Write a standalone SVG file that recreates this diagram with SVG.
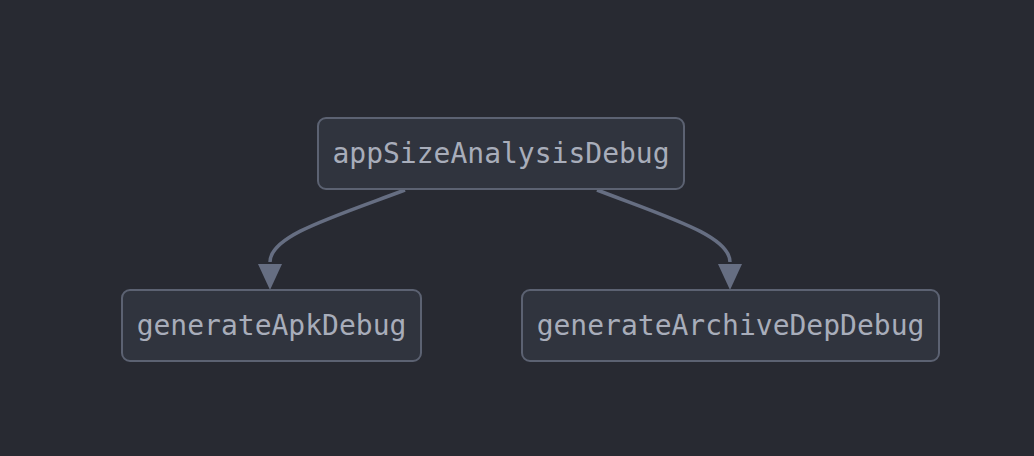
<svg xmlns="http://www.w3.org/2000/svg" width="1034" height="456" viewBox="0 0 1034 456">
<defs>
<style>
.node rect{fill:#30343e;stroke:#5c6272;stroke-width:2}
.node text{font-family:"DejaVu Sans Mono",monospace;font-size:28px;fill:#a8adba;text-anchor:middle;dominant-baseline:central}
.edge{fill:none;stroke:#666e82;stroke-width:3.5}
.head{fill:#666e82}
</style>
</defs>
<rect width="1034" height="456" fill="#282a32"/>
<g id="connectors">
<path class="edge" d="M405,190 C330,218 270,236 270,262"/>
<path class="head" d="M258,264 L282,264 L270,290 Z"/>
<path class="edge" d="M597,190 C670,218 730,236 730,262"/>
<path class="head" d="M718,264 L742,264 L730,290 Z"/>
</g>
<g id="appSizeAnalysisDebug" class="node">
<rect x="318" y="118" width="366" height="71" rx="8"/>
<text x="501" y="153">appSizeAnalysisDebug</text>
</g>
<g id="generateApkDebug" class="node">
<rect x="122" y="290" width="299" height="71" rx="8"/>
<text x="271.5" y="325">generateApkDebug</text>
</g>
<g id="generateArchiveDepDebug" class="node">
<rect x="522" y="290" width="417" height="71" rx="8"/>
<text x="730.5" y="325">generateArchiveDepDebug</text>
</g>
</svg>
